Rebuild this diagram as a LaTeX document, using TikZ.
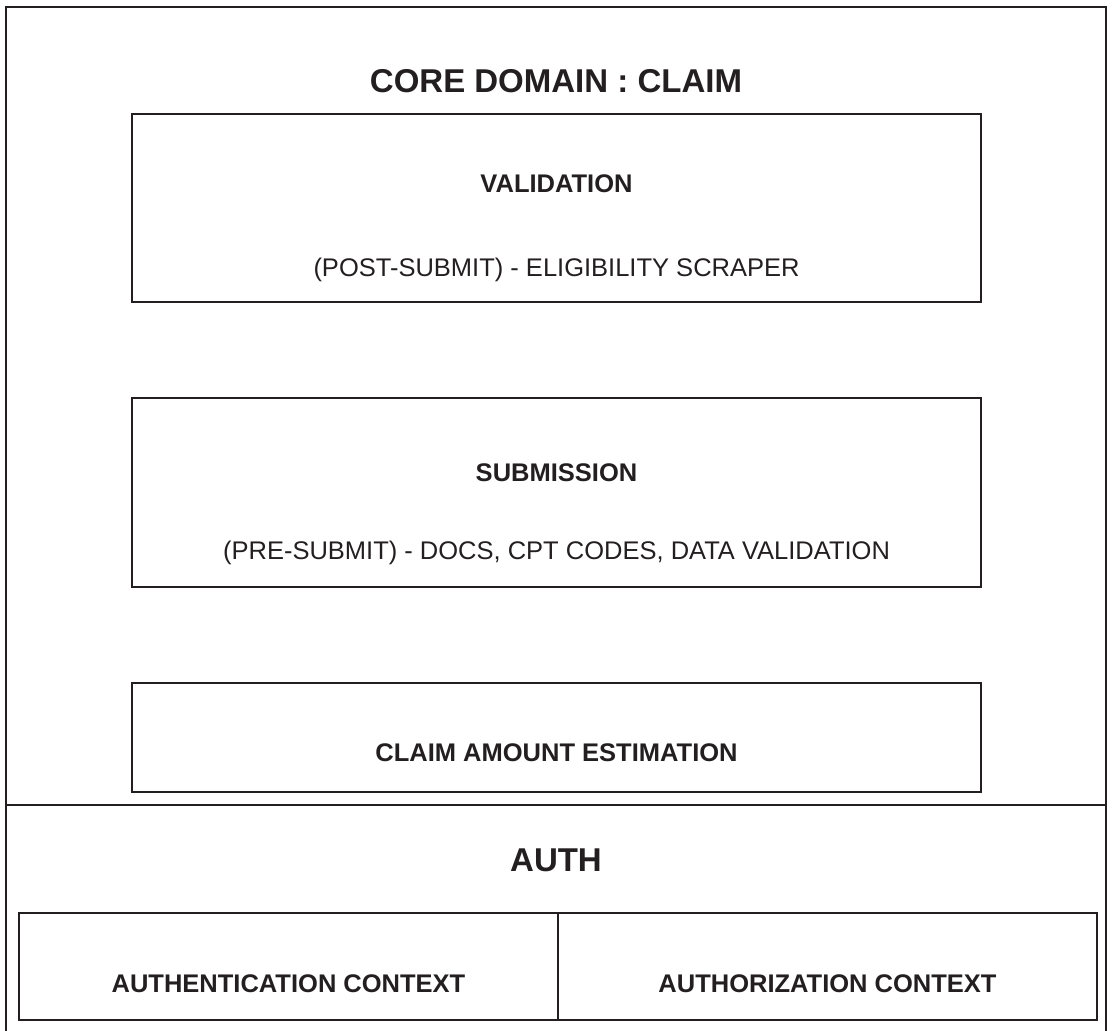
\documentclass[tikz,border=0pt]{standalone}
\usepackage{fontspec}
\setmainfont{Liberation Sans}
\definecolor{ink}{RGB}{35,31,32}

\begin{document}
\begin{tikzpicture}[x=1pt,y=-1pt,line width=2.5pt,color=ink,
        heading/.style={font=\fontsize{33}{40}\selectfont\bfseries,anchor=base,inner sep=0pt},
        partname/.style={font=\fontsize{25.5}{30}\selectfont\bfseries,anchor=base,inner sep=0pt},
        partnote/.style={font=\fontsize{25.5}{30}\selectfont,anchor=base,inner sep=0pt}]
        \useasboundingbox (0,0) rectangle (1112,1031);

        % outer frame, split into claim and auth
        \draw (6,1031) -- (6,7) -- (1106,7) -- (1106,1031);
        \draw (6,805) -- (1106,805);

        \node[heading] (core) at (556,92) {CORE DOMAIN : CLAIM};

        \draw (132,114) rectangle (981,302);
        \node[partname] (validation) at (556.5,192) {VALIDATION};
        \node[partnote] (postsubmit) at (556.5,276) {(POST-SUBMIT) - ELIGIBILITY SCRAPER};

        \draw (132,398) rectangle (981,587);
        \node[partname] (submission) at (556.5,481) {SUBMISSION};
        \node[partnote] (presubmit) at (556.5,559) {(PRE-SUBMIT) - DOCS, CPT CODES, DATA VALIDATION};

        \draw (132,683) rectangle (981,792);
        \node[partname] (estimation) at (556.5,761) {CLAIM AMOUNT ESTIMATION};

        % auth
        \node[heading] (auth) at (556,871) {AUTH};

        \draw (19,913) rectangle (1097,1020);
        \draw (558,913) -- (558,1020);
        \node[partname] (authn) at (288.5,992) {AUTHENTICATION CONTEXT};
        \node[partname] (authz) at (827.5,992) {AUTHORIZATION CONTEXT};
    \end{tikzpicture}
\end{document}
